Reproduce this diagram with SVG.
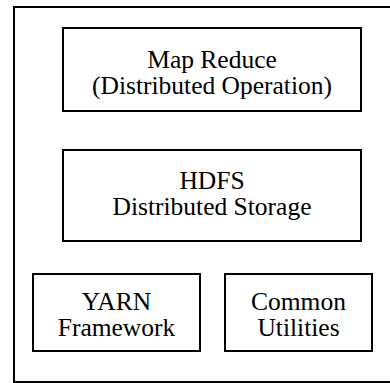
<svg xmlns="http://www.w3.org/2000/svg" width="390" height="383" viewBox="0 0 390 383">
<style>
.box{fill:#fff;stroke:#000;stroke-width:2}
.t{font-family:'Liberation Serif','DejaVu Serif',serif;font-size:25.5px;fill:#000;text-anchor:middle}
</style>
<rect width="390" height="383" fill="#fff"/>
<g id="outer"><rect class="box" x="14" y="7" width="390" height="375"/></g>
<g id="mapreduce">
<rect class="box" x="63" y="28" width="298" height="83"/>
<text class="t" x="212" y="68">Map Reduce</text>
<text class="t" x="212" y="94">(Distributed Operation)</text>
</g>
<g id="hdfs">
<rect class="box" x="63" y="150" width="298" height="91"/>
<text class="t" x="212" y="189">HDFS</text>
<text class="t" x="212" y="215">Distributed Storage</text>
</g>
<g id="yarn">
<rect class="box" x="33" y="274" width="167" height="77"/>
<text class="t" x="116.5" y="310">YARN</text>
<text class="t" x="116.5" y="336">Framework</text>
</g>
<g id="common">
<rect class="box" x="225" y="274" width="147" height="77"/>
<text class="t" x="298.5" y="310">Common</text>
<text class="t" x="298.5" y="336">Utilities</text>
</g>
<g id="connectors"></g>
</svg>
